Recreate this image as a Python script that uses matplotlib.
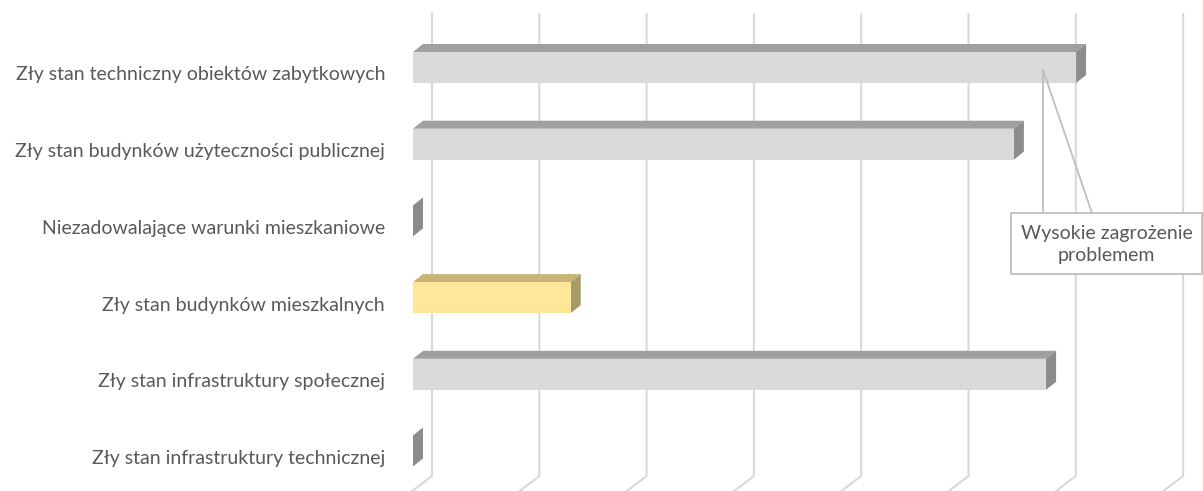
import matplotlib
matplotlib.use("Agg")
import matplotlib.pyplot as plt
from matplotlib.patches import Polygon, Rectangle

# ---- data ----
categories = [
    "Zły stan techniczny obiektów zabytkowych",
    "Zły stan budynków użyteczności publicznej",
    "Niezadowalające warunki mieszkaniowe",
    "Zły stan budynków mieszkalnych",
    "Zły stan infrastruktury społecznej",
    "Zły stan infrastruktury technicznej",
]
values = [6.18, 5.60, 0.0, 1.47, 5.90, 0.0]
highlight = [False, False, False, True, False, False]
grid_values = [0, 1, 2, 3, 4, 5, 6, 7]
callout_text = "Wysokie zagrożenie\nproblemem"

# ---- layout ----
W, H = 1203, 491
X0, UX = 413.0, 107.3          # pixel of front zero, pixels per unit
Y0, UY = 67.5, 76.7            # pixel of first bar centre, pixels per category


def px_x(p):
    return (p - X0) / UX


def px_y(p):
    return (p - Y0) / UY


fig = plt.figure(figsize=(W / 100, H / 100), dpi=100)
ax = fig.add_axes([0, 0, 1, 1])
ax.set_xlim(px_x(0), px_x(W))
ax.set_ylim(px_y(H), px_y(0))
ax.axis("off")

text_color = "#595959"
grid_color = "#D9D9D9"
font = ["Lato", "DejaVu Sans"]
fs = 14.0

# depth offsets
bdx, bdy = 10 / UX, -8 / UY           # bar depth
wall_dx = 19 / UX                     # back wall offset from bar front zero
floor_dx, floor_dy = -21 / UX, 16 / UY

# gridlines on back wall + floor diagonals
ytop, ybot = px_y(14), px_y(476)
for g in grid_values:
    xb = g + wall_dx
    ax.plot([xb, xb, xb + floor_dx], [ytop, ybot, ybot + floor_dy],
            color=grid_color, lw=1.5, solid_joinstyle="miter", zorder=1)

bh = 31 / UY
ys = list(range(len(categories)))
front_cols = ["#FFE699" if h else "#D9D9D9" for h in highlight]
top_cols = ["#C9B476" if h else "#A0A0A0" for h in highlight]
side_cols = ["#A99B68" if h else "#8C8C8C" for h in highlight]

ax.barh(ys, values, height=bh, left=0, color=front_cols, edgecolor="none", zorder=3)
for y, v, tc, sc in zip(ys, values, top_cols, side_cols):
    t, b = y - bh / 2, y + bh / 2
    top = Polygon([(0, t), (v, t), (v + bdx, t + bdy), (bdx, t + bdy)],
                  closed=True, facecolor=tc, edgecolor="none", zorder=2)
    side = Polygon([(v, t), (v + bdx, t + bdy), (v + bdx, b + bdy), (v, b)],
                   closed=True, facecolor=sc, edgecolor="none", zorder=2)
    ax.add_patch(top)
    ax.add_patch(side)

for y, lab in zip(ys, categories):
    ax.text(px_x(385), y + 7.5 / UY, lab, ha="right", va="center",
            color=text_color, fontsize=fs, family=font, zorder=5)

# callout
pt = (px_x(1043), px_y(70))
bx0, bx1 = px_x(1011), px_x(1202)
by0, by1 = px_y(213), px_y(274)
ax.plot([pt[0], pt[0]], [pt[1], by0], color="#BFBFBF", lw=1.3, zorder=6)
ax.plot([pt[0], px_x(1092)], [pt[1], by0], color="#BFBFBF", lw=1.3, zorder=6)
ax.add_patch(Rectangle((bx0, by0), bx1 - bx0, by1 - by0, facecolor="white",
                       edgecolor="#BFBFBF", lw=1.3, zorder=7))
ax.text((bx0 + bx1) / 2, (by0 + by1) / 2 + 1 / UY, callout_text, ha="center", va="center",
        color=text_color, fontsize=fs, family=font, linespacing=1.35, zorder=8)

fig.savefig("out.png", dpi=100)
